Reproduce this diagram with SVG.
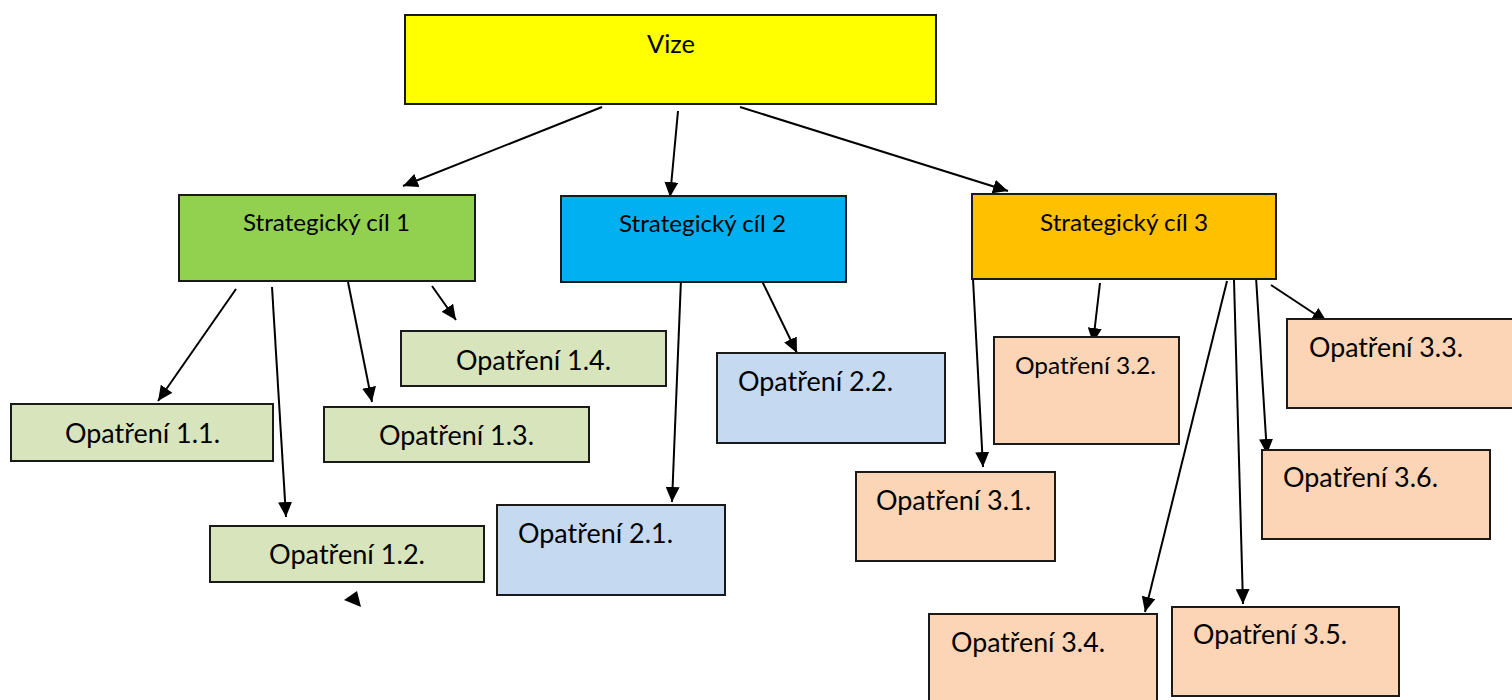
<svg xmlns="http://www.w3.org/2000/svg" width="1512" height="700" viewBox="0 0 1512 700">
<defs>
<marker id="ah" markerUnits="userSpaceOnUse" markerWidth="16" markerHeight="14" refX="15" refY="7" orient="auto">
<path d="M0,0 L15,7 L0,14 Z" fill="#000"/>
</marker>
<style>
rect{stroke:#1a1a1a;stroke-width:2}
text{font-family:"Lato","Liberation Sans",sans-serif;fill:#000}
.l{stroke:#000;stroke-width:2;fill:none;marker-end:url(#ah)}
.s{font-size:23.5px}
.o{font-size:26px}
.g{fill:#d8e4bc}.b{fill:#c5d9f1}.p{fill:#fbd5b5}
</style>
</defs>
<rect x="0" y="0" width="1512" height="700" fill="#fff" style="stroke:none"/>
<g id="connectors">
<line class="l" x1="602" y1="107" x2="403" y2="186"/>
<line class="l" x1="678" y1="111" x2="670" y2="197"/>
<line class="l" x1="740" y1="107" x2="1008" y2="191"/>
<line class="l" x1="236" y1="289" x2="158" y2="401"/>
<line class="l" x1="272" y1="287" x2="286" y2="517"/>
<line class="l" x1="348" y1="282" x2="372" y2="402"/>
<line class="l" x1="432" y1="286" x2="456" y2="320"/>
<line class="l" x1="681" y1="279" x2="672" y2="502"/>
<line class="l" x1="761" y1="279" x2="797" y2="353"/>
<line class="l" x1="973" y1="279" x2="983" y2="467"/>
<line class="l" x1="1100" y1="283" x2="1093" y2="343"/>
<line class="l" x1="1227" y1="281" x2="1145" y2="612"/>
<line class="l" x1="1234" y1="280" x2="1243" y2="604"/>
<line class="l" x1="1256" y1="277" x2="1267" y2="454"/>
<line class="l" x1="1271" y1="285" x2="1327" y2="322"/>
<polygon points="344,600 357,591 361,607" fill="#000"/>
</g>
<g id="vize"><rect x="405" y="15" width="531" height="89" fill="#ffff00"/><text x="647" y="53" style="font-size:25px" textLength="48" lengthAdjust="spacingAndGlyphs">Vize</text></g>
<g id="s1"><rect x="179" y="195" width="296" height="86" fill="#92d050"/><text class="s" x="243" y="231" textLength="167" lengthAdjust="spacingAndGlyphs">Strategický cíl 1</text></g>
<g id="s2"><rect x="561" y="196" width="285" height="86" fill="#00b0f0"/><text class="s" x="619" y="232" textLength="167" lengthAdjust="spacingAndGlyphs">Strategický cíl 2</text></g>
<g id="s3"><rect x="972" y="194" width="304" height="85" fill="#ffc000"/><text class="s" x="1040" y="231" textLength="168" lengthAdjust="spacingAndGlyphs">Strategický cíl 3</text></g>
<g id="o11"><rect class="g" x="11" y="404" width="262" height="57"/><text class="o" x="65" y="443" textLength="155" lengthAdjust="spacingAndGlyphs">Opatření 1.1.</text></g>
<g id="o12"><rect class="g" x="210" y="526" width="274" height="56"/><text class="o" x="269" y="564" textLength="156" lengthAdjust="spacingAndGlyphs">Opatření 1.2.</text></g>
<g id="o13"><rect class="g" x="324" y="407" width="265" height="55"/><text class="o" x="379" y="445" textLength="155" lengthAdjust="spacingAndGlyphs">Opatření 1.3.</text></g>
<g id="o14"><rect class="g" x="401" y="331" width="265" height="55"/><text class="o" x="456" y="370" textLength="155" lengthAdjust="spacingAndGlyphs">Opatření 1.4.</text></g>
<g id="o21"><rect class="b" x="497" y="505" width="228" height="90"/><text class="o" x="518" y="543" textLength="155" lengthAdjust="spacingAndGlyphs">Opatření 2.1.</text></g>
<g id="o22"><rect class="b" x="717" y="353" width="228" height="90"/><text class="o" x="738" y="391" textLength="155" lengthAdjust="spacingAndGlyphs">Opatření 2.2.</text></g>
<g id="o31"><rect class="p" x="856" y="472" width="199" height="89"/><text class="o" x="876" y="510" textLength="155" lengthAdjust="spacingAndGlyphs">Opatření 3.1.</text></g>
<g id="o32"><rect class="p" x="994" y="337" width="185" height="107"/><text x="1015" y="374" style="font-size:23.5px" textLength="141" lengthAdjust="spacingAndGlyphs">Opatření 3.2.</text></g>
<g id="o33"><rect class="p" x="1287" y="319" width="240" height="89"/><text class="o" x="1309" y="357" textLength="154" lengthAdjust="spacingAndGlyphs">Opatření 3.3.</text></g>
<g id="o34"><rect class="p" x="929" y="614" width="228" height="96"/><text class="o" x="951" y="652" textLength="154" lengthAdjust="spacingAndGlyphs">Opatření 3.4.</text></g>
<g id="o35"><rect class="p" x="1172" y="607" width="227" height="89"/><text class="o" x="1193" y="644" textLength="154" lengthAdjust="spacingAndGlyphs">Opatření 3.5.</text></g>
<g id="o36"><rect class="p" x="1262" y="450" width="228" height="89"/><text class="o" x="1283" y="487" textLength="155" lengthAdjust="spacingAndGlyphs">Opatření 3.6.</text></g>
</svg>
